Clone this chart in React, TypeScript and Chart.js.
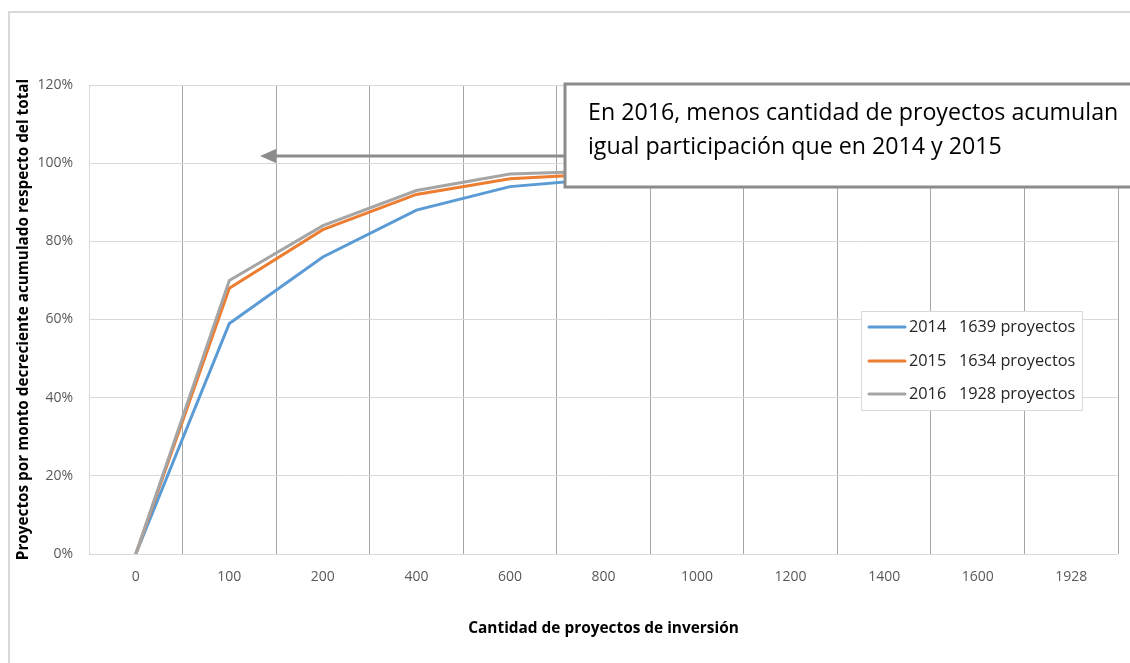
import React, { useEffect, useRef } from "react";
import { Chart, registerables } from "chart.js";

Chart.register(...registerables);

const categories = ["0", "100", "200", "400", "600", "800", "1000", "1200", "1400", "1600", "1928"];
const values2014 = [0, 59, 76, 88, 94, 96, 97.5, 98.5, 99.3, 100, 100];
const values2015 = [0, 68, 83, 92, 96, 97.3, 98.3, 99, 99.5, 100, 100];
const values2016 = [0, 70, 84, 93, 97.2, 98, 98.8, 99.3, 99.7, 100, 100];
const seriesLabels = ["2014   1639 proyectos", "2015   1634 proyectos", "2016   1928 proyectos"];
const seriesColors = ["#5b9bd5", "#ed7d31", "#a5a5a5"];
const yTicks = [0, 20, 40, 60, 80, 100, 120];
const xTitle = "Cantidad de proyectos de inversión";
const yTitle = "Proyectos por monto decreciente acumulado respecto del total";
const noteLines = ["En 2016, menos cantidad de proyectos acumulan", "igual participación que en 2014 y 2015"];

const FAMILY = "'Open Sans', 'Noto Sans', sans-serif";

function fitSize(text: string, weight: string, target: number): number {
  const c = document.createElement("canvas").getContext("2d")!;
  c.font = `${weight} 20px ${FAMILY}`;
  const w = c.measureText(text).width;
  return Math.round((20 * target) / w * 10) / 10;
}

export default function App() {
  const ref = useRef<HTMLCanvasElement | null>(null);

  useEffect(() => {
    const canvas = ref.current!;
    const xTitleSize = fitSize(xTitle, "bold", 271);
    const yTitleSize = fitSize(yTitle, "bold", 483);
    const noteSize = fitSize(noteLines[0], "normal", 530);
    const legendSize = fitSize(seriesLabels[0], "normal", 166);

    const decor = {
      id: "decor",
      afterDraw(chart: any) {
        const ctx = chart.ctx as CanvasRenderingContext2D;
        ctx.save();
        // outer container border
        ctx.strokeStyle = "#d9d9d9";
        ctx.lineWidth = 2;
        ctx.strokeRect(9, 12, 1200, 700);

        // arrow
        ctx.strokeStyle = "#8c8c8c";
        ctx.fillStyle = "#8c8c8c";
        ctx.lineWidth = 3;
        ctx.beginPath();
        ctx.moveTo(566, 156);
        ctx.lineTo(274, 156);
        ctx.stroke();
        ctx.beginPath();
        ctx.moveTo(260, 156);
        ctx.lineTo(276, 149);
        ctx.lineTo(276, 163);
        ctx.closePath();
        ctx.fill();

        // note box
        ctx.fillStyle = "#ffffff";
        ctx.fillRect(565, 84, 600, 103);
        ctx.strokeStyle = "#8c8c8c";
        ctx.lineWidth = 3;
        ctx.strokeRect(565, 84, 600, 103);
        ctx.fillStyle = "#000000";
        ctx.font = `normal ${noteSize}px ${FAMILY}`;
        ctx.textAlign = "left";
        ctx.textBaseline = "alphabetic";
        ctx.fillText(noteLines[0], 588, 120);
        ctx.fillText(noteLines[1], 588, 154);

        // legend
        ctx.fillStyle = "#ffffff";
        ctx.fillRect(861, 311, 221, 99);
        ctx.strokeStyle = "#d9d9d9";
        ctx.lineWidth = 1;
        ctx.strokeRect(861.5, 311.5, 221, 99);
        const rows = [327, 361, 394];
        chart.data.datasets.forEach((ds: any, i: number) => {
          const y = rows[i];
          ctx.strokeStyle = ds.borderColor;
          ctx.lineWidth = 3;
          ctx.lineCap = "round";
          ctx.beginPath();
          ctx.moveTo(869, y);
          ctx.lineTo(905, y);
          ctx.stroke();
          ctx.fillStyle = "#262626";
          ctx.font = `normal ${legendSize}px ${FAMILY}`;
          ctx.textBaseline = "middle";
          ctx.fillText(ds.label, 909, y);
        });
        ctx.restore();
      },
    };

    const order = [3, 2, 1];
    const chart = new Chart(canvas, {
      type: "line",
      data: {
        labels: categories,
        datasets: [values2014, values2015, values2016].map((v, i) => ({
          label: seriesLabels[i],
          data: v,
          borderColor: seriesColors[i],
          backgroundColor: seriesColors[i],
          borderWidth: 3,
          pointRadius: 0,
          tension: 0,
          order: order[i],
        })),
      },
      options: {
        responsive: false,
        animation: false,
        layout: { padding: { top: 85, right: 12, left: 0, bottom: 0 } },
        plugins: { legend: { display: false }, tooltip: { enabled: false }, title: { display: false } },
        scales: {
          x: {
            type: "category",
            offset: true,
            grid: {
              offset: true,
              drawTicks: false,
              color: (c: any) => (c.index === 0 ? "#d9d9d9" : "#a6a6a6"),
              lineWidth: 1,
            },
            border: { display: false },
            ticks: { color: "#595959", font: { family: FAMILY, size: 14 }, padding: 15, maxRotation: 0 },
            title: {
              display: true,
              text: xTitle,
              color: "#000000",
              font: { family: FAMILY, size: xTitleSize, weight: "bold" },
              padding: { top: 0, bottom: 25 },
            },
            afterFit: (s: any) => {
              s.height = 109;
            },
          },
          y: {
            min: 0,
            max: 120,
            afterBuildTicks: (s: any) => {
              s.ticks = yTicks.map((v) => ({ value: v }));
            },
            grid: { drawTicks: false, color: "#d9d9d9", lineWidth: 1 },
            border: { display: false },
            ticks: {
              color: "#595959",
              font: { family: FAMILY, size: 14 },
              padding: 16,
              callback: (v: any) => `${v}%`,
            },
            title: {
              display: true,
              text: yTitle,
              color: "#000000",
              font: { family: FAMILY, size: yTitleSize, weight: "bold" },
              padding: { top: 14, bottom: 0 },
            },
            afterFit: (s: any) => {
              s.width = 89;
            },
          },
        },
      },
      plugins: [decor],
    });
    return () => chart.destroy();
  }, []);

  return (
    <div style={{ position: "fixed", left: 0, top: 0, width: 1130, height: 663, background: "#ffffff" }}>
      <canvas ref={ref} width={1130} height={663} style={{ width: 1130, height: 663, display: "block" }} />
    </div>
  );
}
